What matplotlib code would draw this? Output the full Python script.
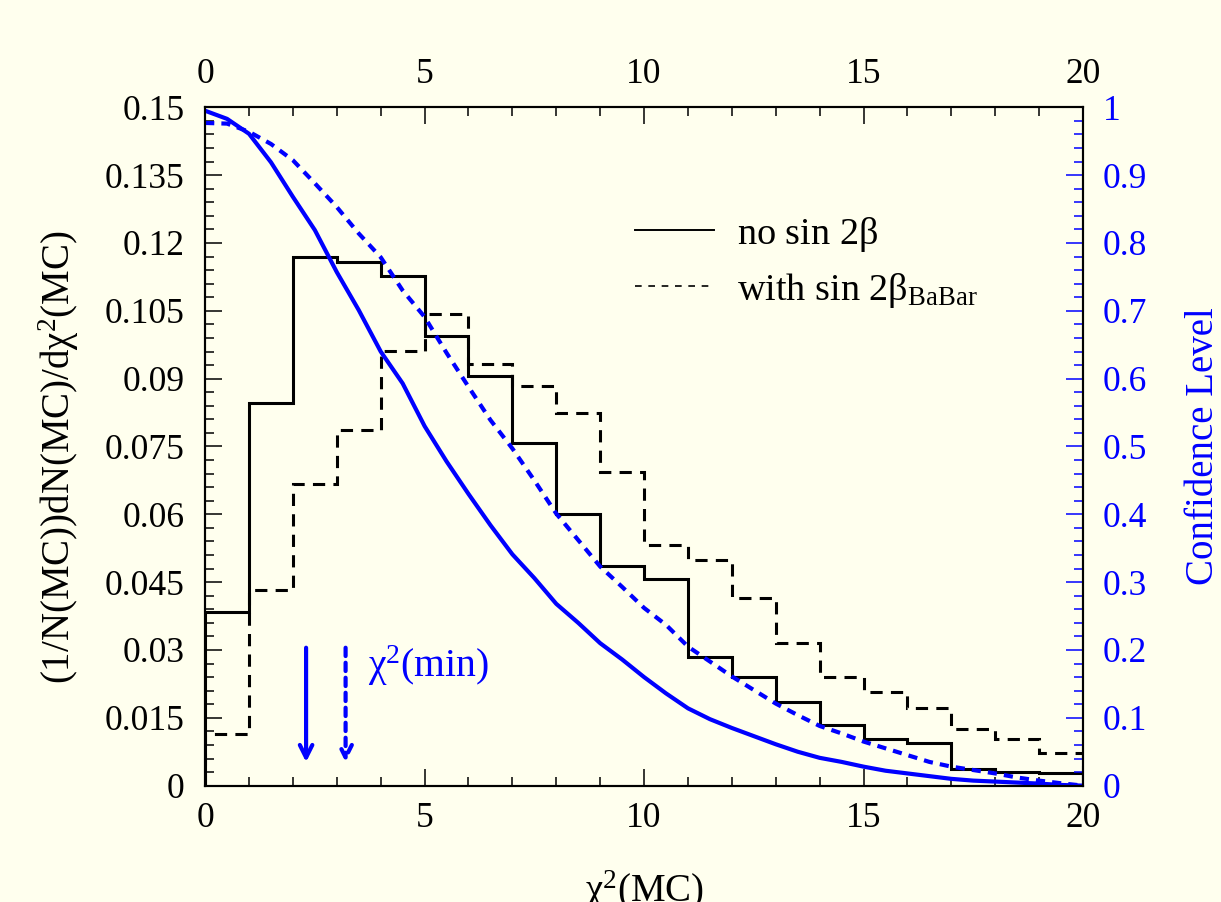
import numpy as np
import matplotlib
matplotlib.use('Agg')
import matplotlib.pyplot as plt
from matplotlib.ticker import MultipleLocator, FuncFormatter
from matplotlib.lines import Line2D

plt.rcParams['font.family'] = ['Liberation Serif', 'DejaVu Serif']
plt.rcParams['mathtext.fontset'] = 'custom'
plt.rcParams['mathtext.rm'] = 'Liberation Serif'
plt.rcParams['mathtext.it'] = 'Liberation Serif:italic'
plt.rcParams['mathtext.bf'] = 'Liberation Serif:bold'

# histogram bins in chi2(MC)
bin_edges = [0, 1, 2, 3, 4, 5, 6, 7, 8, 9, 10, 11, 12, 13, 14, 15, 16, 17, 18, 19, 20]

# normalised chi2 distributions of the toy MC
h_no_sin2b = [0.0384, 0.0847, 0.1168, 0.1157, 0.1127, 0.0995, 0.0905, 0.0757,
              0.0601, 0.0486, 0.0456, 0.0284, 0.0240, 0.0184, 0.0133, 0.0103,
              0.0094, 0.0037, 0.0030, 0.0027]
h_with_sin2b = [0.0114, 0.0433, 0.0666, 0.0786, 0.0962, 0.1042, 0.0933, 0.0883,
                0.0825, 0.0693, 0.0532, 0.0500, 0.0415, 0.0315, 0.0241, 0.0206,
                0.0171, 0.0125, 0.0103, 0.0073]

# confidence level curves
cl_chi2 = [0, 0.5, 1, 1.5, 2, 2.5, 3, 3.5, 4, 4.5, 5, 5.5, 6, 6.5, 7, 7.5, 8,
           8.5, 9, 9.5, 10, 10.5, 11, 11.5, 12, 12.5, 13, 13.5, 14, 14.5, 15,
           15.5, 16, 16.5, 17, 17.5, 18, 18.5, 19, 19.5, 20]
cl_no_sin2b = [0.995, 0.983, 0.961, 0.919, 0.868, 0.819, 0.757, 0.701, 0.640,
               0.593, 0.530, 0.478, 0.430, 0.384, 0.341, 0.306, 0.268, 0.240,
               0.210, 0.186, 0.160, 0.136, 0.114, 0.098, 0.085, 0.073, 0.061,
               0.050, 0.041, 0.035, 0.028, 0.022, 0.018, 0.014, 0.010, 0.0074,
               0.006, 0.0045, 0.003, 0.001, 0.0]
cl_with_sin2b = [0.977, 0.976, 0.964, 0.946, 0.922, 0.888, 0.853, 0.814, 0.779,
                 0.730, 0.691, 0.638, 0.588, 0.539, 0.497, 0.450, 0.401, 0.362,
                 0.323, 0.293, 0.262, 0.237, 0.205, 0.183, 0.161, 0.141, 0.121,
                 0.104, 0.088, 0.077, 0.065, 0.055, 0.045, 0.035, 0.028, 0.023,
                 0.018, 0.012, 0.0074, 0.0035, 0.0]

# chi2(min) of the data fits
chi2_min = [2.3, 3.2]

bg = '#ffffee'
blue = '#0000ff'

fig = plt.figure(figsize=(12.21, 9.02), dpi=100, facecolor=bg)
ax = fig.add_axes([0.168, 0.129, 0.719, 0.752])
ax.set_facecolor(bg)

ax.stairs(h_no_sin2b, bin_edges, color='black', lw=2.2)
ax.stairs(h_with_sin2b, bin_edges, color='black', lw=2.2, linestyle=(0, (4.0, 2.7)))

ax.set_xlim(0, 20)
ax.set_ylim(0, 0.15)

# arrows marking chi2(min)
ax.annotate('', xy=(chi2_min[0], 0.0052), xytext=(chi2_min[0], 0.0305),
            arrowprops=dict(arrowstyle='->,head_length=0.9,head_width=0.45',
                            color=blue, lw=3, shrinkA=0, shrinkB=0))
ax.annotate('', xy=(chi2_min[1], 0.0052), xytext=(chi2_min[1], 0.0305),
            arrowprops=dict(arrowstyle='->,head_length=0.9,head_width=0.45',
                            color=blue, lw=3, linestyle=(0, (2.0, 1.6)),
                            shrinkA=0, shrinkB=0))
ax.text(3.72, 0.0266, r'$\mathrm{\chi}^{2}$(min)', color=blue, fontsize=28.5,
        ha='left', va='center')

# axis styling
ax.xaxis.set_major_locator(MultipleLocator(5))
ax.xaxis.set_minor_locator(MultipleLocator(1))
ax.yaxis.set_major_locator(MultipleLocator(0.015))
ax.yaxis.set_minor_locator(MultipleLocator(0.003))
ax.yaxis.set_major_formatter(FuncFormatter(
    lambda v, p: ('%.3f' % v).rstrip('0').rstrip('.') if abs(v) > 1e-9 else '0'))
ax.tick_params(axis='x', which='both', direction='in', top=True, bottom=True,
               labeltop=True, labelsize=25.5)
ax.tick_params(axis='x', which='major', length=12, width=1.1, pad=12)
ax.tick_params(axis='x', which='minor', length=6.5, width=1.1)
ax.tick_params(axis='y', which='both', direction='in', left=True, right=False,
               labelsize=25.5)
ax.tick_params(axis='y', which='major', length=12.5, width=1.1, pad=15)
ax.tick_params(axis='y', which='minor', length=6.5, width=1.1)
for s in ax.spines.values():
    s.set_linewidth(1.5)

ax.set_xlabel(r'$\mathrm{\chi}^{2}$(MC)', fontsize=28)
ax.xaxis.set_label_coords(0.5, -0.122)
ax.set_ylabel(r'(1/N(MC))dN(MC)/d$\mathrm{\chi}^{2}$(MC)', fontsize=28, va='center')
ax.yaxis.set_label_coords(-0.167, 0.484)

handles = [Line2D([], [], color='black', lw=1.4),
           Line2D([], [], color='black', lw=1.2, linestyle=(0, (4, 4)))]
ax.legend(handles, [r'no sin 2$\mathrm{\beta}$', r'with sin 2$\mathrm{\beta}_{\mathrm{BaBar}}$'],
          loc='upper left', bbox_to_anchor=(0.49, 0.842), frameon=False,
          fontsize=27.5, handlelength=2.05, handletextpad=0.6, labelspacing=0.45,
          borderpad=0, borderaxespad=0)

# confidence level on the right axis
ax2 = ax.twinx()
ax2.plot(cl_chi2, cl_no_sin2b, color=blue, lw=3)
ax2.plot(cl_chi2, cl_with_sin2b, color=blue, lw=3, linestyle=(0, (2.2, 1.7)))
ax2.set_ylim(0, 1)
ax2.yaxis.set_major_locator(MultipleLocator(0.1))
ax2.yaxis.set_minor_locator(MultipleLocator(0.02))
ax2.yaxis.set_major_formatter(FuncFormatter(lambda v, p: '%g' % round(v, 2)))
ax2.tick_params(axis='y', which='both', direction='in', colors=blue,
                labelcolor=blue, labelsize=25.5)
ax2.tick_params(axis='y', which='major', length=12.5, width=1.1, pad=14)
ax2.tick_params(axis='y', which='minor', length=6.5, width=1.1)
for s in ax2.spines.values():
    s.set_linewidth(1.5)
    s.set_color('black')
ax2.set_ylabel('Confidence Level', color=blue, fontsize=28, va='center')
ax2.yaxis.set_label_coords(1.137, 0.5)

fig.savefig('out.png', dpi=100, facecolor=bg)
